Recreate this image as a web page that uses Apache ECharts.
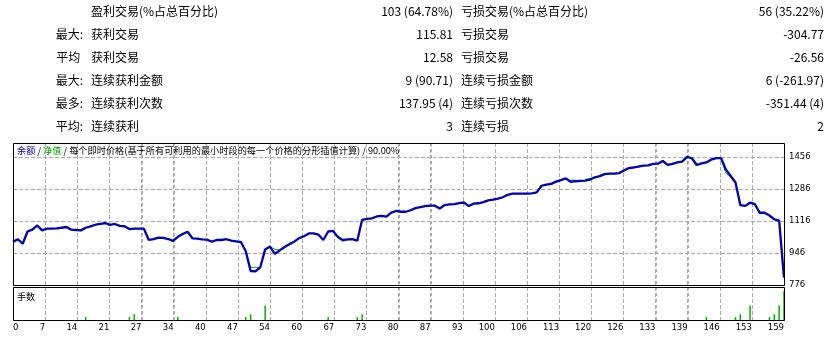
<!DOCTYPE html>
<html>
<head>
<meta charset="utf-8">
<script src="https://cdn.jsdelivr.net/npm/echarts@6.0.0/dist/echarts.min.js"></script>
<style>
  html, body { margin: 0; padding: 0; background: #fff; }
  #main { width: 834px; height: 340px; }
</style>
</head>
<body>
<div id="main"></div>
<script>
// stats table rows: prefix, label, value, label, value
var statPrefix = ['', '最大:', '平均 ', '最大:', '最多:', '平均:'];
var statWinLabel = ['盈利交易(%占总百分比)', '获利交易', '获利交易', '连续获利金额', '连续获利次数', '连续获利'];
var statWinValue = ['103 (64.78%)', '115.81', '12.58', '9 (90.71)', '137.95 (4)', '3'];
var statLossLabel = ['亏损交易(%占总百分比)', '亏损交易', '亏损交易', '连续亏损金额', '连续亏损次数', '连续亏损'];
var statLossValue = ['56 (35.22%)', '-304.77', '-26.56', '6 (-261.97)', '-351.44 (4)', '2'];

// x tick labels (trade number), 24 equal steps
var xLabels = ['0', '7', '14', '21', '27', '34', '40', '47', '54', '60', '67', '73', '80',
  '87', '93', '100', '106', '113', '120', '126', '133', '139', '146', '153', '159'];
var yTicks = [776, 946, 1116, 1286, 1456];

// balance after each trade
var balance = [
  1005, 1019, 995, 1060, 1070, 1092, 1066, 1075, 1075, 1077,
  1080, 1084, 1070, 1068, 1066, 1080, 1087, 1096, 1100, 1105,
  1095, 1100, 1090, 1088, 1073, 1075, 1075, 1075, 1015, 1020,
  1027, 1026, 1020, 1010, 1032, 1047, 1059, 1024, 1022, 1018,
  1017, 1006, 1015, 1015, 1019, 1012, 1008, 1004, 955, 850,
  849, 870, 965, 980, 941, 960, 978, 993, 1006, 1025,
  1035, 1050, 1050, 1043, 1015, 1060, 1063, 1030, 1013, 1018,
  1020, 1011, 1122, 1127, 1130, 1140, 1143, 1139, 1160, 1169,
  1165, 1165, 1173, 1184, 1189, 1195, 1197, 1197, 1182, 1200,
  1204, 1205, 1211, 1214, 1195, 1208, 1210, 1216, 1225, 1229,
  1235, 1242, 1255, 1261, 1261, 1261, 1261, 1262, 1268, 1303,
  1309, 1313, 1325, 1333, 1342, 1324, 1327, 1329, 1330, 1336,
  1348, 1354, 1365, 1367, 1367, 1370, 1384, 1397, 1400, 1405,
  1410, 1411, 1419, 1420, 1435, 1414, 1419, 1427, 1431, 1456,
  1449, 1413, 1422, 1427, 1442, 1450, 1450, 1390, 1355, 1320,
  1200, 1196, 1213, 1205, 1158, 1160, 1145, 1125, 1118, 815
];

// equity, only where it differs from balance (trade, value)
var equitySegs = [
  [[48, 955], [49, 870], [50, 870], [51, 870]],
  [[53, 980], [54, 965], [55, 962]],
  [[66, 1063], [67, 1037], [68, 1020], [69, 1018]],
  [[115, 1333], [116, 1333]],
  [[118, 1337], [119, 1343]],
  [[140, 1449], [141, 1422]],
  [[146, 1450], [147, 1370], [148, 1350]],
  [[153, 1205], [154, 1165], [155, 1162]]
];

// lots (trade, lots)
var lots = [
  [15, 0.01], [24, 0.01], [25, 0.02], [34, 0.01], [48, 0.01], [49, 0.02], [52, 0.05],
  [65, 0.01], [71, 0.01], [72, 0.02], [143, 0.01], [149, 0.01], [150, 0.02], [152, 0.05],
  [156, 0.01], [157, 0.02], [158, 0.05], [159, 0.10]
];

var CJK = '"Noto Sans CJK SC", sans-serif';
var AXF = '"DejaVu Sans", sans-serif';
var step = 159 / 24;
var GRID_GRAY = '#aaaaaa';
var Y1 = [776, 1530], Y2 = [0, 0.114];

// panel frames
var L = 13, W = 771;
var P1 = { top: 143, h: 142 }, P2 = { top: 287, h: 33 };

var graphics = [];
for (var r = 0; r < statPrefix.length; r++) {
  var y = 11.5 + r * 23;
  var cells = [
    [statPrefix[r], 83, 'right'],
    [statWinLabel[r], 91, 'left'],
    [statWinValue[r], 453, 'right'],
    [statLossLabel[r], 461, 'left'],
    [statLossValue[r], 824, 'right']
  ];
  cells.forEach(function (c) {
    if (!c[0]) return;
    graphics.push({
      type: 'text', x: c[1], y: y, silent: true,
      style: { text: c[0], align: c[2], verticalAlign: 'middle', font: '12px ' + CJK, fill: '#000' }
    });
  });
}
[P1, P2].forEach(function (p) {
  graphics.push({
    type: 'rect', z: 5, silent: true,
    shape: { x: L + 0.5, y: p.top + 0.5, width: W, height: p.h },
    style: { fill: 'none', stroke: '#000', lineWidth: 1 }
  });
});
graphics.push({
  type: 'text', x: 17, y: 150.5, z: 10, silent: true,
  style: {
    text: '{a|余额} / {b|净值} / 每个即时价格(基于所有可利用的最小时段的每一个价格的分形插值计算) / 90.00%',
    verticalAlign: 'middle', fontSize: 9.2, fontFamily: CJK, fill: '#000',
    rich: {
      a: { fill: '#0000a0', fontSize: 9.2, fontFamily: CJK },
      b: { fill: '#00a000', fontSize: 9.2, fontFamily: CJK }
    }
  }
});
graphics.push({
  type: 'text', x: 17, y: 296.5, z: 10, silent: true,
  style: { text: '手数', verticalAlign: 'middle', fontSize: 9, fontFamily: CJK, fill: '#000' }
});

function dashed() {
  return { show: true, lineStyle: { color: GRID_GRAY, type: 'dashed', width: 1 } };
}
function hiddenLine() {
  return { show: true, lineStyle: { color: 'rgba(0,0,0,0)' } };
}
function hiddenTick() {
  return { show: true, length: 0, lineStyle: { color: 'rgba(0,0,0,0)' } };
}

// vertical grid lines at the trade-number ticks, drawn through the axes
function vGridSeries(axisIdx, yr) {
  var ticks = [];
  for (var k = 1; k < xLabels.length - 1; k++) ticks.push([k * step, yr[0]]);
  return {
    type: 'custom', xAxisIndex: axisIdx, yAxisIndex: axisIdx, z: 1, silent: true,
    encode: { x: 0, y: 1 },
    data: ticks,
    renderItem: function (params, api) {
      var v = api.value(0);
      var p0 = api.coord([v, yr[0]]);
      var p1 = api.coord([v, yr[1]]);
      var x = Math.round(p0[0]) + 0.5;
      return {
        type: 'line',
        shape: { x1: x, y1: p1[1], x2: x, y2: p0[1] },
        style: { stroke: GRID_GRAY, lineWidth: 1, lineDash: [3, 3] }
      };
    }
  };
}

var series = [];
series.push(vGridSeries(0, Y1));
series.push(vGridSeries(1, Y2));
equitySegs.forEach(function (seg) {
  series.push({
    type: 'line', xAxisIndex: 0, yAxisIndex: 0, data: seg, symbol: 'none', z: 2,
    lineStyle: { color: '#00a800', width: 1 }, silent: true
  });
});
series.push({
  type: 'line', xAxisIndex: 0, yAxisIndex: 0, symbol: 'none', z: 3,
  data: balance.map(function (v, i) { return [i, v]; }),
  lineStyle: { color: '#0000b0', width: 2.3 }, silent: true
});
series.push({
  type: 'bar', xAxisIndex: 1, yAxisIndex: 1, data: lots, barWidth: 1.5, z: 3,
  itemStyle: { color: '#00b000' }, silent: true
});

var option = {
  animation: false,
  graphic: graphics,
  grid: [
    { left: L, top: P1.top, width: W, height: P1.h },
    { left: L, top: P2.top, width: W, height: P2.h }
  ],
  xAxis: [
    {
      gridIndex: 0, type: 'value', min: 0, max: 159, interval: step,
      axisLine: hiddenLine(), axisTick: hiddenTick(), axisLabel: { show: false },
      splitLine: dashed()
    },
    {
      gridIndex: 1, type: 'value', min: 0, max: 159, interval: step,
      axisLine: hiddenLine(), axisTick: hiddenTick(),
      axisLabel: {
        show: true, margin: 3, align: 'right', alignMinLabel: 'left',
        color: '#000', fontSize: 8.5, fontFamily: AXF,
        formatter: function (v) { return xLabels[Math.round(v / step)]; }
      },
      splitLine: dashed()
    }
  ],
  yAxis: [
    {
      gridIndex: 0, type: 'value', position: 'right', min: Y1[0], max: Y1[1], interval: 170,
      axisLine: hiddenLine(), axisTick: hiddenTick(),
      axisLabel: {
        margin: 5, color: '#000', fontSize: 8.5, fontFamily: AXF, showMaxLabel: false,
        formatter: function (v) { return yTicks.indexOf(v) >= 0 ? String(v) : ''; }
      },
      splitLine: dashed()
    },
    {
      gridIndex: 1, type: 'value', min: Y2[0], max: Y2[1],
      axisLine: { show: false }, axisTick: { show: false }, axisLabel: { show: false },
      splitLine: { show: false }
    }
  ],
  series: series
};

var myChart = echarts.init(document.getElementById('main'));
myChart.setOption(option);
</script>
</body>
</html>
